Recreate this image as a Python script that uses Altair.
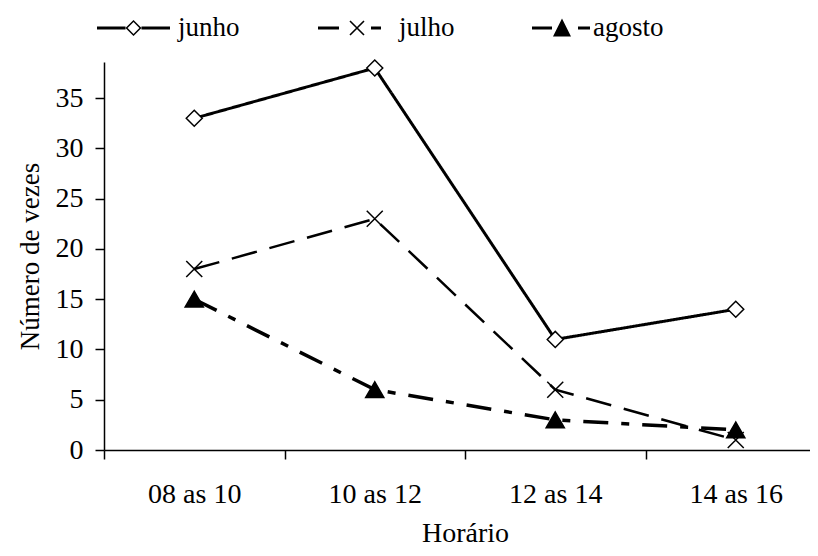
import json
import math
import altair as alt
import pandas as pd

# ---------------- data ----------------
categorias = ["08 as 10", "10 as 12", "12 as 14", "14 as 16"]
series = ["junho", "julho", "agosto"]
junho = [33, 38, 11, 14]
julho = [18, 23, 6, 1]
agosto = [15, 6, 3, 2]
y_ticks = [0, 5, 10, 15, 20, 25, 30, 35]

rows = []
for s, vals in zip(series, [junho, julho, agosto]):
    for c, v in zip(categorias, vals):
        rows.append({"Horario": c, "serie": s, "valor": v})
df = pd.DataFrame(rows)

FONT = "'Liberation Serif', 'Times New Roman', serif"

PLOT_W = 706
BAND_PX = 180.5
X_MAX = PLOT_W / BAND_PX  # categories sit at band centres; the last band runs off the page


# ---------------- legend symbol paths (line + marker) ----------------
def _area(pts):
    a = 0.0
    for i in range(len(pts)):
        x0, y0 = pts[i]
        x1, y1 = pts[(i + 1) % len(pts)]
        a += x0 * y1 - x1 * y0
    return a


def poly(pts, R, cw=True):
    a = _area(pts)
    if (cw and a < 0) or ((not cw) and a > 0):
        pts = pts[::-1]
    return "M" + "L".join(f"{x / R:.4f},{y / R:.4f}" for x, y in pts) + "Z"


def rect(x0, x1, R, h=1.5):
    return poly([(x0, -h), (x1, -h), (x1, h), (x0, h)], R)


def bar(xa, ya, xb, yb, h, R):
    dx, dy = xb - xa, yb - ya
    L = math.hypot(dx, dy)
    nx, ny = -dy / L * h, dx / L * h
    return poly([(xa + nx, ya + ny), (xb + nx, yb + ny), (xb - nx, yb - ny), (xa - nx, ya - ny)], R)


RJ = 36.5
p_junho = (rect(-36.5, -8, RJ) + rect(8, 36.5, RJ)
           + poly([(0, -8), (8, 0), (0, 8), (-8, 0)], RJ)
           + poly([(0, -5.9), (5.9, 0), (0, 5.9), (-5.9, 0)], RJ, cw=False))
RL = 36.5
cx = 2.5
p_julho = (rect(-36.5, -15.5, RL) + bar(cx - 7, -7, cx + 7, 7, 0.8, RL)
           + bar(cx - 7, 7, cx + 7, -7, 0.8, RL) + rect(16.5, 26.5, RL))
RA = 29
tx = 1
p_agosto = (rect(-29, -9, RA) + poly([(tx, -9.5), (tx + 9, 8.5), (tx - 9, 8.5)], RA)
            + rect(17, 29, RA))

legend_paths = {"junho": p_junho, "julho": p_julho, "agosto": p_agosto}
legend_half = {"junho": RJ, "julho": RL, "agosto": RA}
legend_x = {"junho": -7, "julho": 214, "agosto": 428}
legend_label_offset = {"junho": 8, "julho": 8, "agosto": 3}
legend_center_y = -34

line_dash = {"junho": [1, 0], "julho": [26, 13], "agosto": [25, 13, 8, 13]}
line_width = {"junho": 3, "julho": 2.5, "agosto": 3.5}
point_shape = {"junho": "diamond", "julho": "M-1,-1L1,1M-1,1L1,-1", "agosto": "triangle-up"}
point_fill = {"junho": "white", "julho": "white", "agosto": "black"}
point_size = {"junho": 256, "julho": 256, "agosto": 330}

x_scale = alt.Scale(domain=[0, X_MAX], nice=False, zero=False)
label_expr = f"{json.dumps(categorias)}[floor(datum.value)]"

# axis with the tick marks between categories (no labels)
x_ticks_axis = alt.Axis(
    orient="bottom",
    values=[0, 1, 2, 3],
    labels=False,
    tickSize=9,
    title=None,
    grid=False,
)
# axis with the category labels under each category (no ticks)
x_labels_axis = alt.Axis(
    orient="bottom",
    values=[0.5, 1.5, 2.5, 3.5],
    labelExpr=label_expr,
    ticks=False,
    domain=False,
    labelPadding=30,
    labelFontSize=28,
    labelAngle=0,
    grid=False,
    title="Horário",
    titleFontSize=28,
    titleX=BAND_PX * 2,
    titleY=91,
    titleBaseline="alphabetic",
)

y_axis = alt.Axis(
    values=y_ticks,
    title="Número de vezes",
    tickSize=9,
    labelPadding=12,
    labelFontSize=28,
    titleFontSize=27,
    titleX=-74,
    titleY=194,
    titleBaseline="middle",
    titleAlign="center",
    grid=False,
)
y_scale = alt.Scale(domain=[0, 38.6], nice=False, zero=True)

base = alt.Chart(df).transform_calculate(
    xi=f"indexof({json.dumps(categorias)}, datum.Horario) + 0.5"
)

line_layers, point_layers, legend_layers = [], [], []
for s in series:
    sub = base.transform_filter(alt.datum.serie == s)
    line_layers.append(
        sub.mark_line(color="black", strokeDash=line_dash[s], strokeWidth=line_width[s]).encode(
            x=alt.X("xi:Q", scale=x_scale, axis=x_ticks_axis),
            y=alt.Y("valor:Q", scale=y_scale, axis=y_axis),
        )
    )
    point_layers.append(
        sub.mark_point(
            shape=point_shape[s], fill=point_fill[s], stroke="black",
            strokeWidth=1.5, opacity=1, size=point_size[s], filled=False,
        ).encode(
            x=alt.X("xi:Q", scale=x_scale, axis=x_labels_axis),
            y=alt.Y("valor:Q", scale=y_scale, axis=y_axis),
        )
    )
    half = legend_half[s]
    legend_layers.append(
        sub.mark_point(filled=True, color="black", opacity=0, size=1).encode(
            x=alt.X("xi:Q", scale=x_scale, axis=x_labels_axis),
            y=alt.Y("valor:Q", scale=y_scale, axis=y_axis),
            fill=alt.Fill(
                "serie:N",
                scale=alt.Scale(domain=[s], range=["black"]),
                legend=alt.Legend(
                    title=None,
                    orient="none",
                    legendX=legend_x[s],
                    legendY=legend_center_y - half,
                    direction="horizontal",
                    symbolType=legend_paths[s],
                    symbolSize=(2 * half) ** 2,
                    symbolStrokeWidth=0,
                    symbolOpacity=1,
                    labelFont=FONT,
                    labelFontSize=27,
                    labelColor="black",
                    labelOffset=legend_label_offset[s],
                    padding=0,
                ),
            ),
        )
    )

points_and_legends = alt.layer(*point_layers, *legend_layers).resolve_scale(
    fill="independent"
).resolve_legend(fill="independent")

chart = alt.layer(
    alt.layer(*line_layers),
    points_and_legends,
).resolve_axis(x="independent").resolve_scale(fill="independent").resolve_legend(
    fill="independent"
).properties(
    width=PLOT_W,
    height=388,
    padding={"left": 96, "top": 54, "right": 0, "bottom": 98},
    autosize=alt.AutoSizeParams(type="none"),
).configure_view(stroke=None).configure_axis(
    labelFont=FONT,
    titleFont=FONT,
    labelColor="black",
    titleColor="black",
    titleFontWeight="normal",
    domainColor="black",
    tickColor="black",
    domainWidth=1.5,
    tickWidth=1.5,
)

chart.save("out.html", embed_options={"renderer": "svg", "actions": False})
